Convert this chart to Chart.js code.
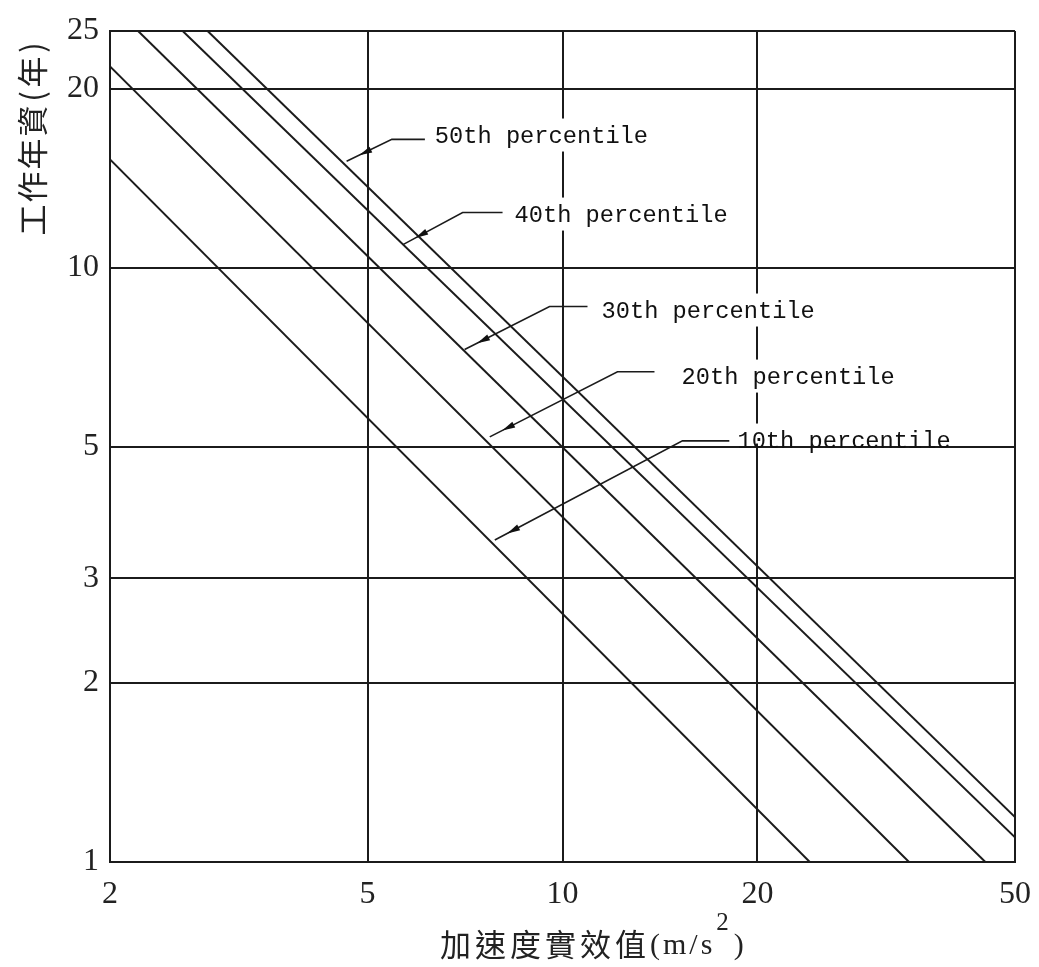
<!DOCTYPE html>
<html>
<head>
<meta charset="utf-8">
<script src="https://cdn.jsdelivr.net/npm/chart.js@4.4.1/dist/chart.umd.min.js"></script>
<style>
html,body{margin:0;padding:0;background:#fff;}
#wrap{width:1039px;height:967px;}
</style>
</head>
<body>
<div id="wrap"><canvas id="c" width="1039" height="967"></canvas></div>
<script>
// ---- data (log-log straight lines, endpoints) ----
const xTicks = [2, 5, 10, 20, 50];
const yTicks = [1, 2, 3, 5, 10, 20, 25];
const percentileLabels = ['10th percentile', '20th percentile', '30th percentile', '40th percentile', '50th percentile'];
const accel10 = [2, 24.1];   const years10 = [15.2, 1];
const accel20 = [2, 34.3];   const years20 = [21.8, 1];
const accel30 = [2.21, 45.0]; const years30 = [25, 1];
const accel40 = [2.59, 50];  const years40 = [25, 1.10];
const accel50 = [2.83, 50];  const years50 = [25, 1.19];
const xTitle = '加速度實效值';
const xUnit = '(m/s';
const yTitle = '工作年資(年)';

const seriesX = [accel10, accel20, accel30, accel40, accel50];
const seriesY = [years10, years20, years30, years40, years50];

const INK = '#1b1b1b';
const labelFont = '23.7px "Liberation Mono", "DejaVu Sans Mono", monospace';

// annotation callouts, in data coordinates
const annotations = [
  {i:4, tip:[4.64,15.09], elbow:[5.45,16.43], lineEnd:6.13, textAt:[6.35,16.23]},
  {i:3, tip:[5.67,10.93], elbow:[7.01,12.38], lineEnd:8.08, textAt:[8.43,11.95]},
  {i:2, tip:[7.06,7.28],  elbow:[9.55,8.60],  lineEnd:10.93, textAt:[11.49,8.24]},
  {i:1, tip:[7.72,5.19],  elbow:[12.16,6.68], lineEnd:13.87, textAt:[15.27,6.38]},
  {i:0, tip:[7.86,3.48],  elbow:[15.32,5.11], lineEnd:18.1,  textAt:[18.63,4.98], keepGrid:true}
];

const datasets = seriesX.map((xs, k) => ({
  label: percentileLabels[k],
  data: xs.map((v, j) => ({x: v, y: seriesY[k][j]})),
  showLine: true,
  borderColor: INK,
  borderWidth: 2,
  pointRadius: 0,
  tension: 0,
  fill: false
}));

const overlay = {
  id: 'overlay',
  beforeDraw(chart) {
    const c = chart.ctx;
    c.save(); c.fillStyle = '#fff'; c.fillRect(0, 0, chart.width, chart.height); c.restore();
  },
  beforeDatasetsDraw(chart) {
    const {ctx, scales: {x, y}} = chart;
    ctx.save();
    ctx.font = labelFont;
    ctx.fillStyle = '#fff';
    annotations.forEach(a => {
      const tx = x.getPixelForValue(a.textAt[0]);
      const ty = y.getPixelForValue(a.textAt[1]);
      const w = ctx.measureText(percentileLabels[a.i]).width;
      const top = ty - 24;
      const bottom = a.keepGrid ? ty - 4 : ty + 9;
      ctx.fillRect(tx - 6, top, w + 12, bottom - top);
    });
    ctx.restore();
  },
  afterDatasetsDraw(chart) {
    const {ctx, scales: {x, y}} = chart;
    ctx.save();
    ctx.strokeStyle = INK;
    ctx.fillStyle = '#111';
    ctx.lineWidth = 1.6;
    annotations.forEach(a => {
      const px = x.getPixelForValue(a.tip[0]), py = y.getPixelForValue(a.tip[1]);
      const ex = x.getPixelForValue(a.elbow[0]), ey = y.getPixelForValue(a.elbow[1]);
      const lx = x.getPixelForValue(a.lineEnd);
      ctx.beginPath();
      ctx.moveTo(lx, ey);
      ctx.lineTo(ex, ey);
      ctx.lineTo(px, py);
      ctx.stroke();
      // arrowhead a little before the end, pointing to the target line
      let dx = px - ex, dy = py - ey;
      const len = Math.hypot(dx, dy); dx /= len; dy /= len;
      const hx = px - dx * 14, hy = py - dy * 14;
      const bx = hx - dx * 13, by = hy - dy * 13;
      const nx = -dy, ny = dx;
      ctx.beginPath();
      ctx.moveTo(hx, hy);
      ctx.lineTo(bx + nx * 3.2, by + ny * 3.2);
      ctx.lineTo(bx - nx * 3.2, by - ny * 3.2);
      ctx.closePath();
      ctx.fill();
      // text
      ctx.font = labelFont;
      ctx.textAlign = 'left';
      ctx.textBaseline = 'alphabetic';
      ctx.fillText(percentileLabels[a.i], x.getPixelForValue(a.textAt[0]), y.getPixelForValue(a.textAt[1]));
    });
    ctx.restore();
  },
  afterDraw(chart) {
    const ctx = chart.ctx;
    ctx.save();
    ctx.fillStyle = '#222';
    // x title
    ctx.textBaseline = 'alphabetic';
    ctx.textAlign = 'left';
    let cx = 440, base = 956;
    ctx.font = '31px "Noto Sans CJK TC", "Noto Sans CJK SC", sans-serif';
    ctx.letterSpacing = '4px';
    ctx.fillText(xTitle, cx, base);
    cx += ctx.measureText(xTitle).width;
    ctx.font = '30px "Liberation Serif", serif';
    ctx.letterSpacing = '3px';
    ctx.fillText(xUnit, cx, base - 2);
    cx += ctx.measureText(xUnit).width;
    ctx.font = '25px "Liberation Serif", serif';
    ctx.letterSpacing = '0px';
    ctx.fillText('2', cx + 1, base - 26);
    cx += ctx.measureText('2').width + 6;
    ctx.font = '30px "Liberation Serif", serif';
    ctx.fillText(')', cx, base - 2);
    // y title, rotated, character cells
    ctx.translate(32, 138);
    ctx.rotate(-Math.PI / 2);
    ctx.font = '31px "Noto Sans CJK TC", "Noto Sans CJK SC", sans-serif';
    ctx.textAlign = 'center';
    ctx.textBaseline = 'middle';
    const chars = Array.from(yTitle);
    const cell = ch => (ch === '(' || ch === ')') ? 16 : 33;
    const total = chars.reduce((s, ch) => s + cell(ch), 0);
    let pos = -total / 2;
    chars.forEach(ch => {
      const w = cell(ch);
      ctx.fillText(ch, pos + w / 2, 0);
      pos += w;
    });
    ctx.restore();
  }
};

const tickFont = {family: '"Liberation Serif", "DejaVu Serif", serif', size: 32};

new Chart(document.getElementById('c'), {
  type: 'scatter',
  data: {datasets},
  options: {
    responsive: false,
    animation: false,
    devicePixelRatio: 1,
    layout: {padding: {top: 31, right: 24, left: 0, bottom: 0}},
    plugins: {legend: {display: false}, tooltip: {enabled: false}},
    scales: {
      x: {
        type: 'logarithmic',
        min: 2, max: 50,
        afterBuildTicks: s => { s.ticks = xTicks.map(v => ({value: v})); },
        afterFit: s => { s.height = 105; s.paddingLeft = 0; s.paddingRight = 0; },
        ticks: {
          callback: v => String(v),
          font: tickFont, color: '#222', padding: 13,
          maxRotation: 0, autoSkip: false
        },
        grid: {color: INK, lineWidth: 2, drawTicks: false},
        border: {color: INK, width: 2}
      },
      y: {
        type: 'logarithmic',
        min: 1, max: 25,
        afterBuildTicks: s => { s.ticks = yTicks.map(v => ({value: v})); },
        afterFit: s => { s.width = 110; s.paddingTop = 0; s.paddingBottom = 0; },
        ticks: {
          callback: v => String(v),
          font: tickFont, color: '#222', padding: 11,
          autoSkip: false
        },
        grid: {color: INK, lineWidth: 2, drawTicks: false},
        border: {color: INK, width: 2}
      }
    }
  },
  plugins: [overlay]
});
</script>
</body>
</html>
